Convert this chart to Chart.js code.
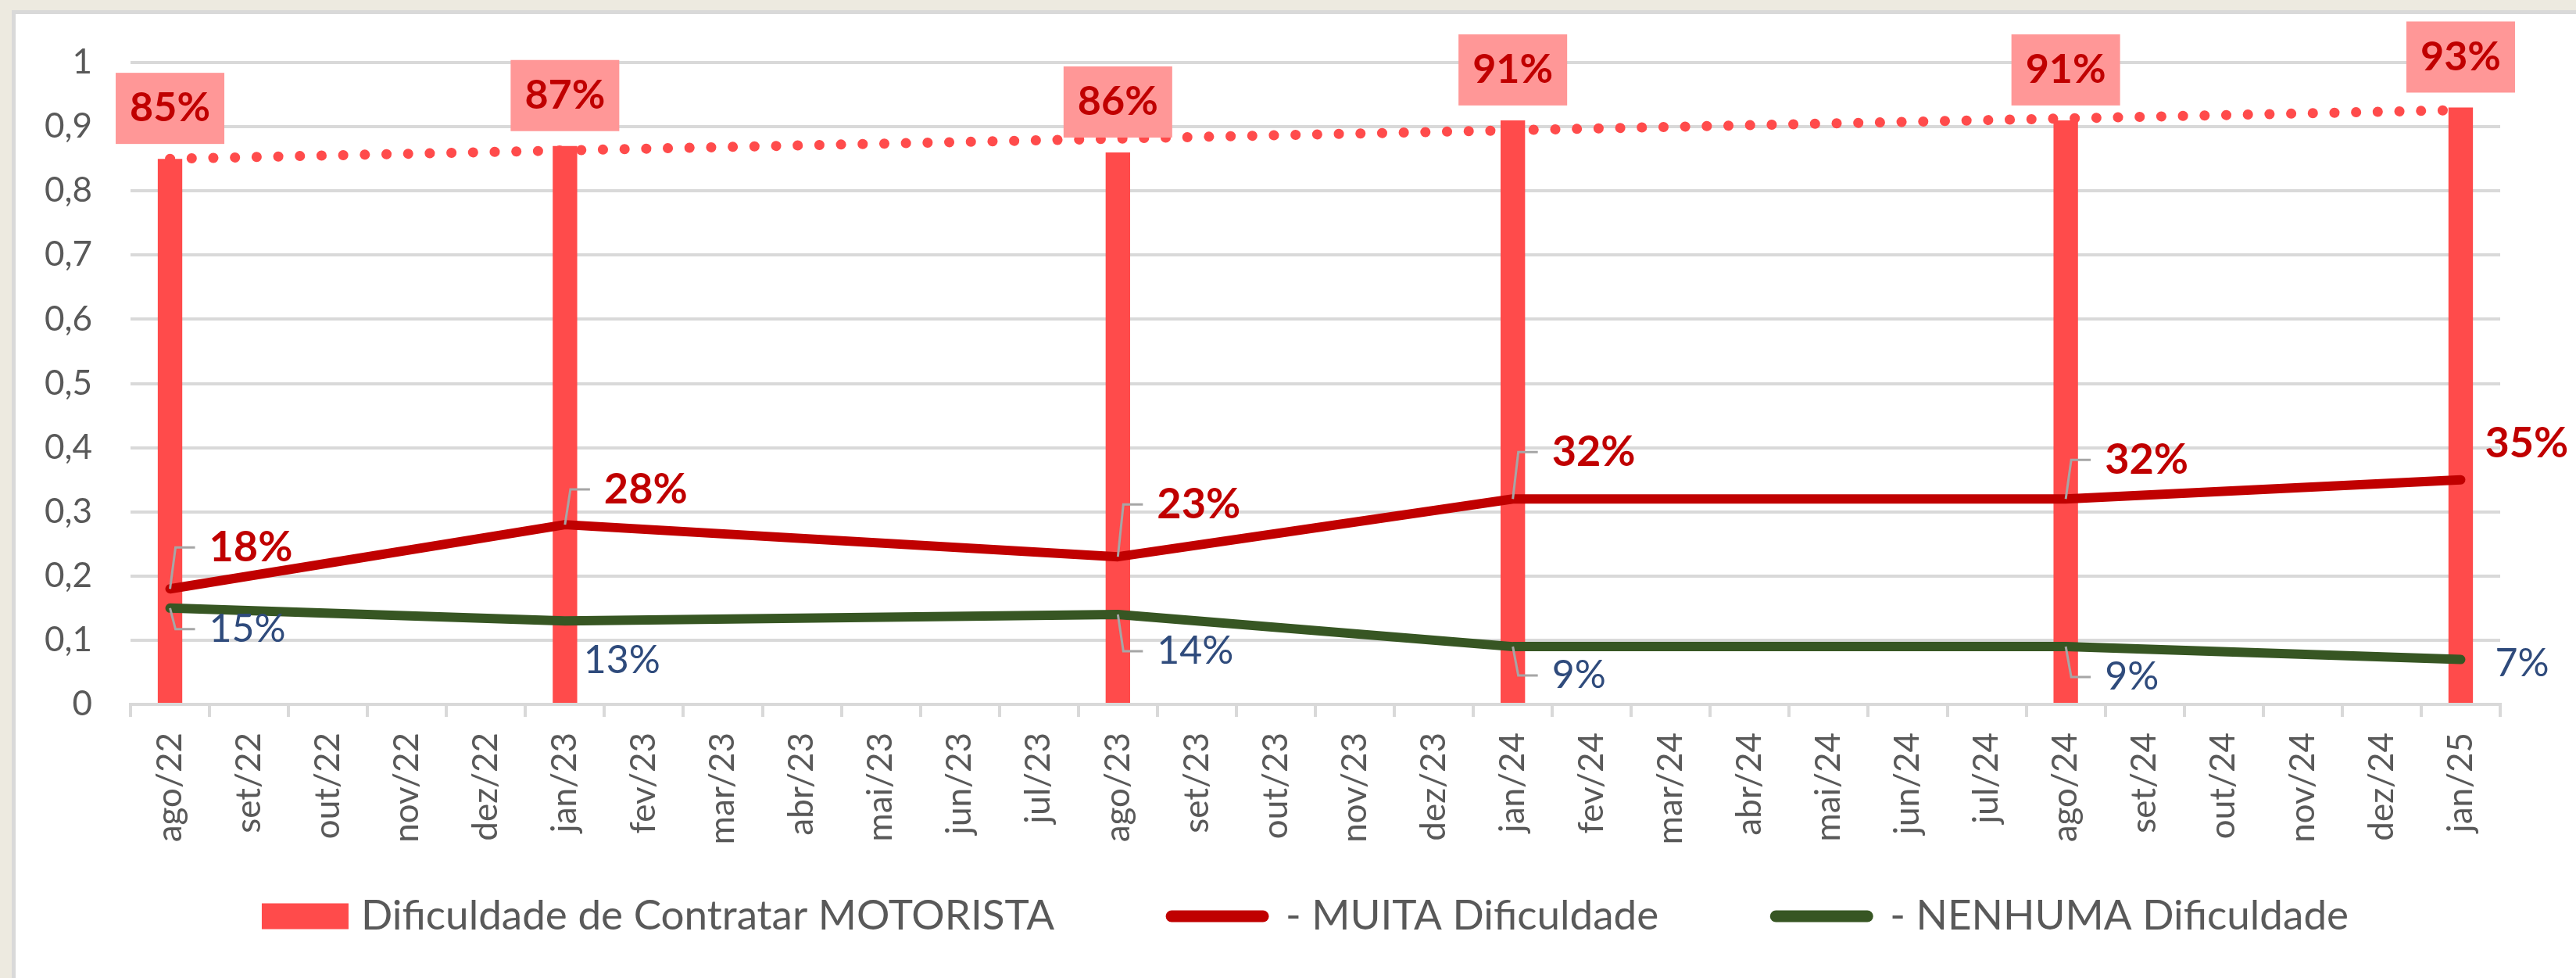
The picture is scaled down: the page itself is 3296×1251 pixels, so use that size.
<!DOCTYPE html>
<html>
<head>
<meta charset="utf-8">
<script src="https://cdn.jsdelivr.net/npm/chart.js@4.4.1/dist/chart.umd.min.js"></script>
<style>
    html, body { margin: 0; padding: 0; }
    body { width: 3296px; height: 1251px; background: #EDEAE0; position: relative; overflow: hidden; }
    .painel { position: absolute; left: 15px; top: 13px; width: 3400px; height: 1400px; background: #fff; border: 5px solid #D9D9D9; }
    #grafico { position: absolute; left: 0; top: 0; }
</style>
</head>
<body>
<div class="painel"></div>
<canvas id="grafico" width="3296" height="1251"></canvas>
<script>
const meses = [
    'ago/22', 'set/22', 'out/22', 'nov/22', 'dez/22',
    'jan/23', 'fev/23', 'mar/23', 'abr/23', 'mai/23', 'jun/23', 'jul/23',
    'ago/23', 'set/23', 'out/23', 'nov/23', 'dez/23',
    'jan/24', 'fev/24', 'mar/24', 'abr/24', 'mai/24', 'jun/24', 'jul/24',
    'ago/24', 'set/24', 'out/24', 'nov/24', 'dez/24',
    'jan/25'
];

// pesquisas: ago/22, jan/23, ago/23, jan/24, ago/24, jan/25
const contratar = [0.85, null, null, null, null, 0.87, null, null, null, null, null, null,
    0.86, null, null, null, null, 0.91, null, null, null, null, null, null,
    0.91, null, null, null, null, 0.93];
const muita = [0.18, null, null, null, null, 0.28, null, null, null, null, null, null,
    0.23, null, null, null, null, 0.32, null, null, null, null, null, null,
    0.32, null, null, null, null, 0.35];
const nenhuma = [0.15, null, null, null, null, 0.13, null, null, null, null, null, null,
    0.14, null, null, null, null, 0.09, null, null, null, null, null, null,
    0.09, null, null, null, null, 0.07];
// linha de tendencia (pontilhada): inicio e fim
const tendencia = [0.85, null, null, null, null, null, null, null, null, null, null, null,
    null, null, null, null, null, null, null, null, null, null, null, null,
    null, null, null, null, null, 0.926];

const nomes = ['Dificuldade de Contratar MOTORISTA', '- MUITA Dificuldade', '- NENHUMA Dificuldade'];

// posicao dos rotulos: [dx do inicio do texto, dy do centro, linha guia]
const posMuita = [[50, -53, true], [50, -45, true], [50, -67, true], [50, -60, true], [50, -50, true], [31, -46, false]];
const posNenhuma = [[50, 27, true], [24, 51, false], [50, 47, true], [50, 37, true], [50, 39, true], [44, 5, false]];

const FONTE = 'Lato, "Open Sans", sans-serif';
const cinza = '#595959';

const pct = v => Math.round(v * 100) + '%';

const rotulos = {
    id: 'rotulos',
    afterDatasetsDraw(chart) {
        const ctx = chart.ctx;
        ctx.save();

        const serie = (idx, pos, font, color) => {
            const meta = chart.getDatasetMeta(idx);
            const dados = chart.data.datasets[idx].data;
            let k = 0;
            dados.forEach((v, i) => {
                if (v === null) return;
                const pt = meta.data[i];
                const [dx, dy, guia] = pos[k++];
                const cy = pt.y + dy;
                if (guia) {
                    ctx.strokeStyle = '#A6A6A6';
                    ctx.lineWidth = 3;
                    ctx.beginPath();
                    ctx.moveTo(pt.x, pt.y);
                    ctx.lineTo(pt.x + 7, cy);
                    ctx.lineTo(pt.x + 32, cy);
                    ctx.stroke();
                }
                ctx.font = font;
                ctx.fillStyle = color;
                ctx.textAlign = 'left';
                ctx.textBaseline = 'middle';
                ctx.fillText(pct(v), pt.x + dx, cy);
            });
        };
        serie(2, posMuita, 'bold 54px ' + FONTE, '#C00000');
        serie(3, posNenhuma, '50px ' + FONTE, '#2F4B7C');

        // caixas das barras
        const metaBar = chart.getDatasetMeta(1);
        contratar.forEach((v, i) => {
            if (v === null) return;
            const bar = metaBar.data[i];
            const base = bar.y - 19;
            ctx.fillStyle = '#FF9797';
            ctx.fillRect(bar.x - 69.5, base - 91, 139, 91);
            ctx.font = 'bold 52px ' + FONTE;
            ctx.fillStyle = '#C00000';
            ctx.textAlign = 'center';
            ctx.textBaseline = 'middle';
            ctx.fillText(pct(v), bar.x, base - 45.5);
        });
        ctx.restore();
    }
};

const legenda = {
    id: 'legenda',
    afterDraw(chart) {
        const ctx = chart.ctx;
        ctx.save();
        ctx.font = '53px ' + FONTE;
        const itens = [
            { texto: nomes[0], w: 111, gap: 16, tipo: 'caixa', cor: '#FF4B4B' },
            { texto: nomes[1], w: 131, gap: 22, tipo: 'linha', cor: '#C00000' },
            { texto: nomes[2], w: 131, gap: 22, tipo: 'linha', cor: '#375623' }
        ];
        const espaco = 143;
        itens.forEach(it => it.total = it.w + it.gap + ctx.measureText(it.texto).width);
        const total = itens.reduce((s, it) => s + it.total, 0) + espaco * (itens.length - 1);
        let x = 1670 - total / 2;
        const y = 1172;
        itens.forEach(it => {
            if (it.tipo === 'caixa') {
                ctx.fillStyle = it.cor;
                ctx.fillRect(x, y - 16.5, it.w, 33);
            } else {
                ctx.strokeStyle = it.cor;
                ctx.lineWidth = 15;
                ctx.lineCap = 'round';
                ctx.beginPath();
                ctx.moveTo(x + 7, y);
                ctx.lineTo(x + it.w - 7, y);
                ctx.stroke();
            }
            ctx.fillStyle = cinza;
            ctx.textAlign = 'left';
            ctx.textBaseline = 'middle';
            ctx.fillText(it.texto, x + it.w + it.gap, y);
            x += it.total + espaco;
        });
        ctx.restore();
    }
};

const ctx = document.getElementById('grafico').getContext('2d');
new Chart(ctx, {
    type: 'bar',
    data: {
        labels: meses,
        datasets: [
            {
                type: 'line',
                label: 'Tendência',
                data: tendencia,
                borderColor: '#FF4B4B',
                borderWidth: 13,
                borderDash: [0.1, 27.6],
                borderCapStyle: 'round',
                pointRadius: 0,
                spanGaps: true,
                order: 4
            },
            {
                label: nomes[0],
                data: contratar,
                backgroundColor: '#FF4B4B',
                barPercentage: 0.31,
                categoryPercentage: 1,
                order: 3
            },
            {
                type: 'line',
                label: nomes[1],
                data: muita,
                borderColor: '#C00000',
                borderWidth: 12,
                borderCapStyle: 'round',
                borderJoinStyle: 'round',
                pointRadius: 0,
                spanGaps: true,
                order: 1
            },
            {
                type: 'line',
                label: nomes[2],
                data: nenhuma,
                borderColor: '#375623',
                borderWidth: 12,
                borderCapStyle: 'round',
                borderJoinStyle: 'round',
                pointRadius: 0,
                spanGaps: true,
                order: 2
            }
        ]
    },
    options: {
        responsive: false,
        animation: false,
        layout: { padding: { left: 0, right: 97, top: 80, bottom: 150 } },
        plugins: {
            legend: { display: false },
            tooltip: { enabled: false }
        },
        scales: {
            x: {
                grid: { drawOnChartArea: false, color: '#D9D9D9', lineWidth: 4, tickLength: 16, offset: true },
                border: { color: '#D9D9D9', width: 4 },
                ticks: {
                    maxRotation: 90,
                    minRotation: 90,
                    padding: 20,
                    autoSkip: false,
                    color: cinza,
                    font: { family: FONTE, size: 44 }
                },
                afterFit(scale) { scale.height = 200; }
            },
            y: {
                min: 0,
                max: 1,
                grid: { color: '#D9D9D9', lineWidth: 4, drawTicks: false },
                border: { display: false },
                ticks: {
                    stepSize: 0.1,
                    padding: 49,
                    color: cinza,
                    font: { family: FONTE, size: 44 },
                    callback: v => String(Number(v.toFixed(1))).replace('.', ',')
                },
                afterFit(scale) { scale.width = 167; }
            }
        }
    },
    plugins: [rotulos, legenda]
});
</script>
</body>
</html>
